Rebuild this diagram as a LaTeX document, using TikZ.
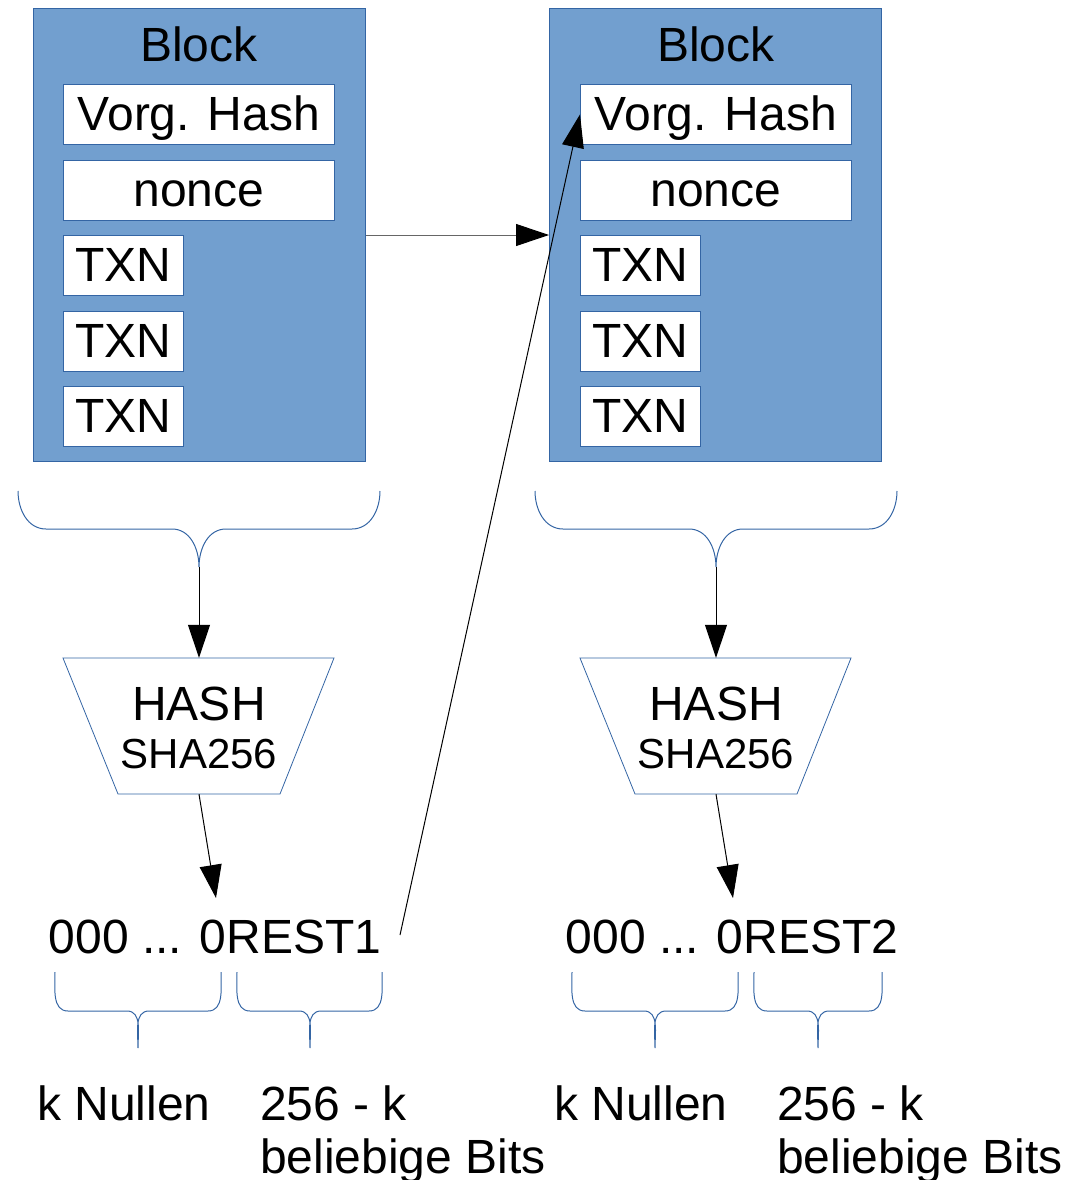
\documentclass[tikz,border=0pt]{standalone}
\usepackage{fontspec}
\setmainfont{Liberation Sans}
\usetikzlibrary{arrows.meta}
\definecolor{bfill}{HTML}{729FCF}
\definecolor{bline}{HTML}{3465A4}
\begin{document}
\begin{tikzpicture}[x=1pt,y=-1pt,
  big/.style={font=\fontsize{48}{53}\selectfont},
  mid/.style={font=\fontsize{42}{48}\selectfont},
  blockbox/.style={draw=bline,fill=bfill,line width=1pt,minimum width=332pt,minimum height=453pt,anchor=north west,inner sep=0pt},
  inbox/.style={draw=bline,fill=white,line width=0.8pt,minimum height=60pt,anchor=north west,inner sep=0pt,text height=40pt,text depth=8pt,big},
  txt/.style={inner sep=0pt,big},
  arr/.style={line width=1pt,-{Triangle[length=33pt,width=22pt,color=black]}},
  brace/.style={draw=bline,line width=1pt},
  hashbox/.style={minimum width=271pt,minimum height=136pt,inner sep=0pt}
]
\useasboundingbox (0,0) rectangle (1081,1180);

% ---------- block 1 ----------
\node[blockbox] (b1) at (33,8) {};
\node[txt,anchor=base] (t1) at (199,62) {Block};
\node[inbox,minimum width=271pt] (vh1) at (63,84) {Vorg. Hash};
\node[inbox,minimum width=271pt] (n1) at (63,160) {nonce};
\node[inbox,minimum width=120pt] (x1a) at (63,235) {TXN};
\node[inbox,minimum width=120pt] (x1b) at (63,311) {TXN};
\node[inbox,minimum width=120pt] (x1c) at (63,386) {TXN};

% ---------- block 2 ----------
\node[blockbox] (b2) at (549,8) {};
\node[txt,anchor=base] (t2) at (716,62) {Block};
\node[inbox,minimum width=271pt] (vh2) at (580,84) {Vorg. Hash};
\node[inbox,minimum width=271pt] (n2) at (580,160) {nonce};
\node[inbox,minimum width=120pt] (x2a) at (580,235) {TXN};
\node[inbox,minimum width=120pt] (x2b) at (580,311) {TXN};
\node[inbox,minimum width=120pt] (x2c) at (580,386) {TXN};

\draw[arr,draw=black!60] (b1.east) -- (b2.west);

% ---------- big braces ----------
\coordinate (br1) at (199,567);
\coordinate (br2) at (716,567);
\draw[brace] (18,491) to[out=-90,in=180] (46,529) -- (172,529) to[out=0,in=90] (br1)
  to[out=90,in=180] (226,529) -- (352,529) to[out=0,in=-90] (380,491);
\draw[brace] (535,491) to[out=-90,in=180] (563,529) -- (689,529) to[out=0,in=90] (br2)
  to[out=90,in=180] (743,529) -- (869,529) to[out=0,in=-90] (897,491);

% ---------- hash units ----------
\node[hashbox] (h1) at (199,726) {};
\draw[bline,line width=0.8pt] (63,658) -- (334,658) -- (280,794) -- (118,794) -- cycle;
\node[txt,anchor=base] (hh1) at (199,720) {HASH};
\node[txt,mid,anchor=base] (hs1) at (199,768) {SHA256};

\node[hashbox] (h2) at (716,726) {};
\draw[bline,line width=0.8pt] (580,658) -- (851,658) -- (797,794) -- (635,794) -- cycle;
\node[txt,anchor=base] (hh2) at (716,720) {HASH};
\node[txt,mid,anchor=base] (hs2) at (716,768) {SHA256};

\draw[arr] (br1) -- (h1.north);
\draw[arr] (br2) -- (h2.north);

% ---------- results ----------
\node[txt,anchor=base] (r1) at (215,953) {000 ... 0REST1};
\node[txt,anchor=base] (r2) at (732,953) {000 ... 0REST2};
\coordinate (r1in) at (216,898);
\coordinate (r2in) at (733,898);
\draw[arr] (h1.south) -- (r1in);
\draw[arr] (h2.south) -- (r2in);

\coordinate (r1out) at (400,935);
\draw[arr] (r1out) -- (vh2.west);

% ---------- small braces ----------
\coordinate (s1) at (138,1048);
\coordinate (s2) at (310,1048);
\coordinate (s3) at (655,1048);
\coordinate (s4) at (818,1048);
\draw[brace] (55,972) to[out=-90,in=180] (68,1011) -- (127,1011) to[out=0,in=90] (s1)
  to[out=90,in=180] (149,1011) -- (208,1011) to[out=0,in=-90] (221,972);
\draw[brace] (237,972) to[out=-90,in=180] (250,1011) -- (299,1011) to[out=0,in=90] (s2)
  to[out=90,in=180] (321,1011) -- (369,1011) to[out=0,in=-90] (382,972);
\draw[brace] (572,972) to[out=-90,in=180] (585,1011) -- (644,1011) to[out=0,in=90] (s3)
  to[out=90,in=180] (666,1011) -- (725,1011) to[out=0,in=-90] (738,972);
\draw[brace] (754,972) to[out=-90,in=180] (767,1011) -- (807,1011) to[out=0,in=90] (s4)
  to[out=90,in=180] (829,1011) -- (869,1011) to[out=0,in=-90] (882,972);

% ---------- bottom labels ----------
\node[txt,anchor=base west] (k1) at (37,1120) {k Nullen};
\node[txt,anchor=base west] (m1) at (260,1120) {256 - k};
\node[txt,anchor=base west] (bb1) at (260,1173) {beliebige Bits};
\node[txt,anchor=base west] (k2) at (554,1120) {k Nullen};
\node[txt,anchor=base west] (m2) at (777,1120) {256 - k};
\node[txt,anchor=base west] (bb2) at (777,1173) {beliebige Bits};
\end{tikzpicture}
\end{document}
